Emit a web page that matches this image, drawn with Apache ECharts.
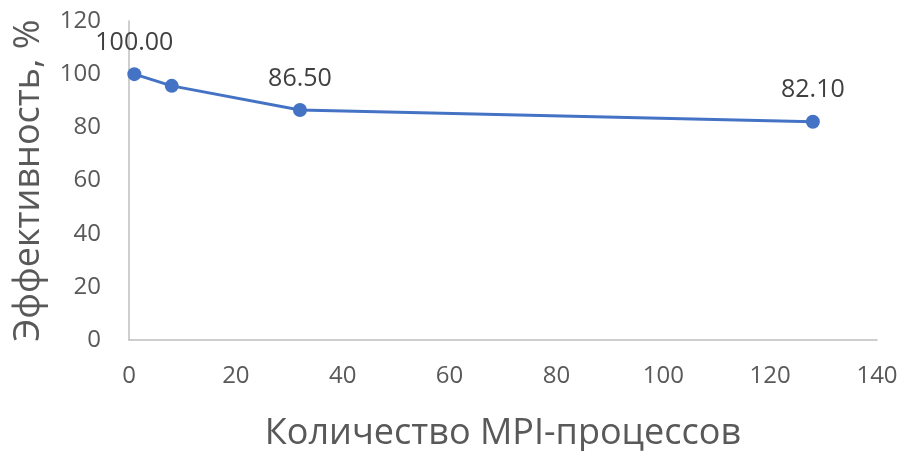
<!DOCTYPE html>
<html>
<head>
<meta charset="utf-8">
<script src="https://cdn.jsdelivr.net/npm/echarts@6/dist/echarts.min.js"></script>
<style>
  html, body { margin: 0; padding: 0; background: #fff; }
  #chart { width: 902px; height: 451px; }
</style>
</head>
<body>
<div id="chart"></div>
<script>
// Number of MPI processes and parallel efficiency, %
const processes = [1, 8, 32, 128];
const efficiency = [100.00, 95.6, 86.50, 82.10];
// Which points carry a value label
const showLabel = [true, false, true, true];

const xTitle = 'Количество MPI-процессов';
const yTitle = 'Эффективность, %';

const font = '"Open Sans", "Noto Sans", sans-serif';

const chart = echarts.init(document.getElementById('chart'));
chart.setOption({
  animation: false,
  grid: {
    left: 129, right: 25, top: 21, bottom: 111,
    containLabel: false,
    outerBoundsMode: 'none'
  },
  xAxis: {
    type: 'value',
    min: 0, max: 140, interval: 20,
    name: xTitle,
    nameLocation: 'middle',
    nameGap: 76,
    nameTextStyle: { fontSize: 36, color: '#595959', fontFamily: font },
    axisLine: { show: true, lineStyle: { color: '#bfbfbf', width: 1.5 } },
    axisTick: { show: false },
    splitLine: { show: false },
    axisLabel: { fontSize: 24, color: '#595959', fontFamily: font, margin: 24 }
  },
  yAxis: {
    type: 'value',
    min: 0, max: 120, interval: 20,
    name: yTitle,
    nameLocation: 'middle',
    nameGap: 82,
    nameTextStyle: { fontSize: 36, color: '#595959', fontFamily: font },
    axisLine: { show: true, lineStyle: { color: '#bfbfbf', width: 1.5 } },
    axisTick: { show: false },
    splitLine: { show: false },
    axisLabel: { fontSize: 24, color: '#595959', fontFamily: font, margin: 28 }
  },
  series: [{
    type: 'line',
    data: processes.map((x, i) => ({
      value: [x, efficiency[i]],
      label: { show: showLabel[i] }
    })),
    symbol: 'circle',
    symbolSize: 14,
    lineStyle: { color: '#4472c4', width: 3 },
    itemStyle: { color: '#4472c4' },
    label: {
      position: 'top',
      distance: 12,
      fontSize: 25,
      color: '#404040',
      fontFamily: font,
      formatter: p => p.value[1].toFixed(2)
    }
  }]
});
</script>
</body>
</html>
